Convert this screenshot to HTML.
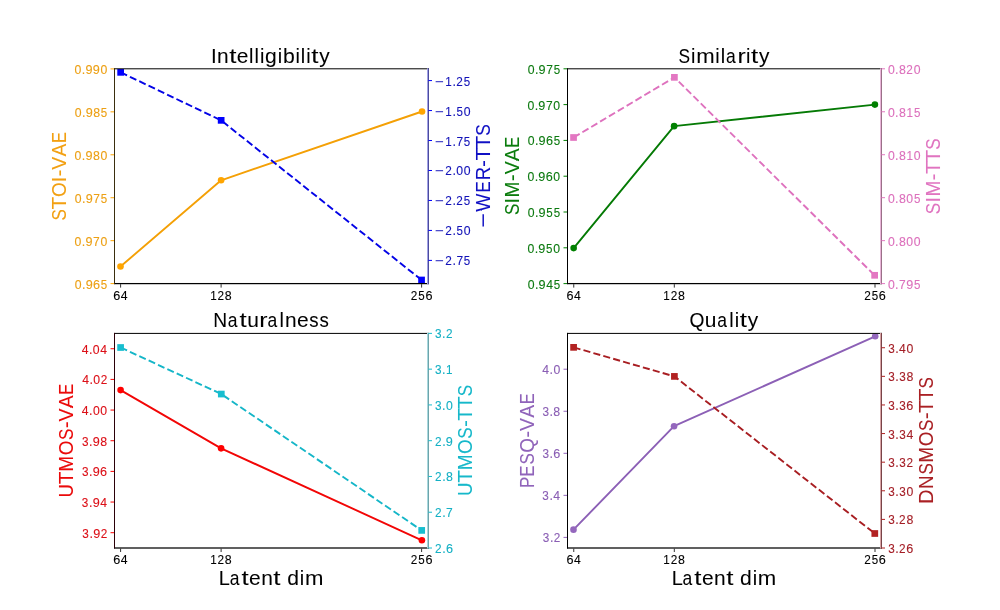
<!DOCTYPE html>
<html><head><meta charset="utf-8"><title>Latent dim ablation</title><style>
html,body{margin:0;padding:0;background:#fff;}
svg{display:block;will-change:transform;}
text{font-family:"Liberation Sans", sans-serif;}
</style></head><body>
<svg width="1000" height="610" viewBox="0 0 1000 610">
<rect width="1000" height="610" fill="#fff"/>
<clipPath id="cTL"><rect x="114.5" y="68.5" width="313.5" height="215.0"/></clipPath>
<g clip-path="url(#cTL)">
<polyline points="120.5,266.5 221.1,180.3 422.05,111.5" fill="none" stroke="#f4a006" stroke-width="1.9" stroke-linejoin="round"/>
<circle cx="120.5" cy="266.5" r="3.3" fill="#FFA500"/>
<circle cx="221.1" cy="180.3" r="3.3" fill="#FFA500"/>
<circle cx="422.05" cy="111.5" r="3.3" fill="#FFA500"/>
<polyline points="120.65,72.35 221.15,120.35 421.55,280.0" fill="none" stroke="#0404e6" stroke-width="1.9" stroke-dasharray="7.1 3.2" stroke-linejoin="round"/>
<rect x="117.30" y="69.00" width="6.7" height="6.7" fill="#0000FF"/>
<rect x="217.80" y="117.00" width="6.7" height="6.7" fill="#0000FF"/>
<rect x="418.20" y="276.65" width="6.7" height="6.7" fill="#0000FF"/>
</g>
<rect x="114" y="68.30" width="315" height="1" fill="#000"/>
<rect x="114" y="282.98" width="315" height="1.24" fill="#000"/>
<rect x="114" y="68.30" width="1" height="215.80" fill="#3a2e0e"/>
<rect x="427" y="68.30" width="1" height="215.80" fill="#a0a0e6"/>
<rect x="428" y="68.30" width="1" height="215.80" fill="#4c4c9c"/>
<rect x="120.10" y="284.10" width="1" height="3.5" fill="#333"/>
<rect x="220.60" y="284.10" width="1" height="3.5" fill="#333"/>
<rect x="421.10" y="284.10" width="1" height="3.5" fill="#333"/>
<rect x="110.50" y="283.10" width="3.5" height="1" fill="#FFA500"/>
<rect x="110.50" y="240.16" width="3.5" height="1" fill="#FFA500"/>
<rect x="110.50" y="197.22" width="3.5" height="1" fill="#FFA500"/>
<rect x="110.50" y="154.28" width="3.5" height="1" fill="#FFA500"/>
<rect x="110.50" y="111.34" width="3.5" height="1" fill="#FFA500"/>
<rect x="110.50" y="68.40" width="3.5" height="1" fill="#FFA500"/>
<rect x="428.5" y="259.90" width="3.5" height="1" fill="#0000FF"/>
<rect x="428.5" y="229.93" width="3.5" height="1" fill="#0000FF"/>
<rect x="428.5" y="199.96" width="3.5" height="1" fill="#0000FF"/>
<rect x="428.5" y="169.99" width="3.5" height="1" fill="#0000FF"/>
<rect x="428.5" y="140.02" width="3.5" height="1" fill="#0000FF"/>
<rect x="428.5" y="110.05" width="3.5" height="1" fill="#0000FF"/>
<rect x="428.5" y="80.08" width="3.5" height="1" fill="#0000FF"/>
<text transform="translate(113.31,299.50) scale(1.046,1)" font-size="12.1" fill="#000" stroke="#000" stroke-width="0.1">6</text>
<text transform="translate(120.81,299.50) scale(1.011,1)" font-size="12.1" fill="#000" stroke="#000" stroke-width="0.1">4</text>
<text transform="translate(210.17,299.50) scale(0.965,1)" font-size="12.1" fill="#000" stroke="#000" stroke-width="0.1">1</text>
<text transform="translate(217.43,299.50) scale(0.974,1)" font-size="12.1" fill="#000" stroke="#000" stroke-width="0.1">2</text>
<text transform="translate(224.80,299.50) scale(1.022,1)" font-size="12.1" fill="#000" stroke="#000" stroke-width="0.1">8</text>
<text transform="translate(410.73,299.50) scale(0.974,1)" font-size="12.1" fill="#000" stroke="#000" stroke-width="0.1">2</text>
<text transform="translate(418.28,299.50) scale(0.954,1)" font-size="12.1" fill="#000" stroke="#000" stroke-width="0.1">5</text>
<text transform="translate(425.40,299.50) scale(1.046,1)" font-size="12.1" fill="#000" stroke="#000" stroke-width="0.1">6</text>
<text transform="translate(74.79,288.60) scale(1.011,1)" font-size="12.1" fill="#eda014" stroke="#eda014" stroke-width="0.1">0</text>
<text transform="translate(81.98,288.60) scale(1.037,1)" font-size="12.1" fill="#eda014" stroke="#eda014" stroke-width="0.1">.</text>
<text transform="translate(85.71,288.60) scale(1.044,1)" font-size="12.1" fill="#eda014" stroke="#eda014" stroke-width="0.1">9</text>
<text transform="translate(93.12,288.60) scale(1.046,1)" font-size="12.1" fill="#eda014" stroke="#eda014" stroke-width="0.1">6</text>
<text transform="translate(100.77,288.60) scale(0.954,1)" font-size="12.1" fill="#eda014" stroke="#eda014" stroke-width="0.1">5</text>
<text transform="translate(74.55,245.66) scale(1.011,1)" font-size="12.1" fill="#eda014" stroke="#eda014" stroke-width="0.1">0</text>
<text transform="translate(81.74,245.66) scale(1.037,1)" font-size="12.1" fill="#eda014" stroke="#eda014" stroke-width="0.1">.</text>
<text transform="translate(85.47,245.66) scale(1.044,1)" font-size="12.1" fill="#eda014" stroke="#eda014" stroke-width="0.1">9</text>
<text transform="translate(93.05,245.66) scale(0.989,1)" font-size="12.1" fill="#eda014" stroke="#eda014" stroke-width="0.1">7</text>
<text transform="translate(100.38,245.66) scale(1.011,1)" font-size="12.1" fill="#eda014" stroke="#eda014" stroke-width="0.1">0</text>
<text transform="translate(74.79,202.72) scale(1.011,1)" font-size="12.1" fill="#eda014" stroke="#eda014" stroke-width="0.1">0</text>
<text transform="translate(81.98,202.72) scale(1.037,1)" font-size="12.1" fill="#eda014" stroke="#eda014" stroke-width="0.1">.</text>
<text transform="translate(85.71,202.72) scale(1.044,1)" font-size="12.1" fill="#eda014" stroke="#eda014" stroke-width="0.1">9</text>
<text transform="translate(93.29,202.72) scale(0.989,1)" font-size="12.1" fill="#eda014" stroke="#eda014" stroke-width="0.1">7</text>
<text transform="translate(100.77,202.72) scale(0.954,1)" font-size="12.1" fill="#eda014" stroke="#eda014" stroke-width="0.1">5</text>
<text transform="translate(74.55,159.78) scale(1.011,1)" font-size="12.1" fill="#eda014" stroke="#eda014" stroke-width="0.1">0</text>
<text transform="translate(81.74,159.78) scale(1.037,1)" font-size="12.1" fill="#eda014" stroke="#eda014" stroke-width="0.1">.</text>
<text transform="translate(85.47,159.78) scale(1.044,1)" font-size="12.1" fill="#eda014" stroke="#eda014" stroke-width="0.1">9</text>
<text transform="translate(92.96,159.78) scale(1.022,1)" font-size="12.1" fill="#eda014" stroke="#eda014" stroke-width="0.1">8</text>
<text transform="translate(100.38,159.78) scale(1.011,1)" font-size="12.1" fill="#eda014" stroke="#eda014" stroke-width="0.1">0</text>
<text transform="translate(74.79,116.84) scale(1.011,1)" font-size="12.1" fill="#eda014" stroke="#eda014" stroke-width="0.1">0</text>
<text transform="translate(81.98,116.84) scale(1.037,1)" font-size="12.1" fill="#eda014" stroke="#eda014" stroke-width="0.1">.</text>
<text transform="translate(85.71,116.84) scale(1.044,1)" font-size="12.1" fill="#eda014" stroke="#eda014" stroke-width="0.1">9</text>
<text transform="translate(93.20,116.84) scale(1.022,1)" font-size="12.1" fill="#eda014" stroke="#eda014" stroke-width="0.1">8</text>
<text transform="translate(100.77,116.84) scale(0.954,1)" font-size="12.1" fill="#eda014" stroke="#eda014" stroke-width="0.1">5</text>
<text transform="translate(74.55,73.90) scale(1.011,1)" font-size="12.1" fill="#eda014" stroke="#eda014" stroke-width="0.1">0</text>
<text transform="translate(81.74,73.90) scale(1.037,1)" font-size="12.1" fill="#eda014" stroke="#eda014" stroke-width="0.1">.</text>
<text transform="translate(85.47,73.90) scale(1.044,1)" font-size="12.1" fill="#eda014" stroke="#eda014" stroke-width="0.1">9</text>
<text transform="translate(92.85,73.90) scale(1.044,1)" font-size="12.1" fill="#eda014" stroke="#eda014" stroke-width="0.1">9</text>
<text transform="translate(100.38,73.90) scale(1.011,1)" font-size="12.1" fill="#eda014" stroke="#eda014" stroke-width="0.1">0</text>
<text transform="translate(434.76,265.40) scale(1.235,1)" font-size="12.1" fill="#1212b8" stroke="#1212b8" stroke-width="0.1">−</text>
<text transform="translate(445.23,265.40) scale(0.974,1)" font-size="12.1" fill="#1212b8" stroke="#1212b8" stroke-width="0.1">2</text>
<text transform="translate(452.45,265.40) scale(1.037,1)" font-size="12.1" fill="#1212b8" stroke="#1212b8" stroke-width="0.1">.</text>
<text transform="translate(456.38,265.40) scale(0.989,1)" font-size="12.1" fill="#1212b8" stroke="#1212b8" stroke-width="0.1">7</text>
<text transform="translate(463.86,265.40) scale(0.954,1)" font-size="12.1" fill="#1212b8" stroke="#1212b8" stroke-width="0.1">5</text>
<text transform="translate(434.76,235.43) scale(1.235,1)" font-size="12.1" fill="#1212b8" stroke="#1212b8" stroke-width="0.1">−</text>
<text transform="translate(445.23,235.43) scale(0.974,1)" font-size="12.1" fill="#1212b8" stroke="#1212b8" stroke-width="0.1">2</text>
<text transform="translate(452.45,235.43) scale(1.037,1)" font-size="12.1" fill="#1212b8" stroke="#1212b8" stroke-width="0.1">.</text>
<text transform="translate(456.48,235.43) scale(0.954,1)" font-size="12.1" fill="#1212b8" stroke="#1212b8" stroke-width="0.1">5</text>
<text transform="translate(463.71,235.43) scale(1.011,1)" font-size="12.1" fill="#1212b8" stroke="#1212b8" stroke-width="0.1">0</text>
<text transform="translate(434.76,205.46) scale(1.235,1)" font-size="12.1" fill="#1212b8" stroke="#1212b8" stroke-width="0.1">−</text>
<text transform="translate(445.23,205.46) scale(0.974,1)" font-size="12.1" fill="#1212b8" stroke="#1212b8" stroke-width="0.1">2</text>
<text transform="translate(452.45,205.46) scale(1.037,1)" font-size="12.1" fill="#1212b8" stroke="#1212b8" stroke-width="0.1">.</text>
<text transform="translate(456.30,205.46) scale(0.974,1)" font-size="12.1" fill="#1212b8" stroke="#1212b8" stroke-width="0.1">2</text>
<text transform="translate(463.86,205.46) scale(0.954,1)" font-size="12.1" fill="#1212b8" stroke="#1212b8" stroke-width="0.1">5</text>
<text transform="translate(434.76,175.49) scale(1.235,1)" font-size="12.1" fill="#1212b8" stroke="#1212b8" stroke-width="0.1">−</text>
<text transform="translate(445.23,175.49) scale(0.974,1)" font-size="12.1" fill="#1212b8" stroke="#1212b8" stroke-width="0.1">2</text>
<text transform="translate(452.45,175.49) scale(1.037,1)" font-size="12.1" fill="#1212b8" stroke="#1212b8" stroke-width="0.1">.</text>
<text transform="translate(456.33,175.49) scale(1.011,1)" font-size="12.1" fill="#1212b8" stroke="#1212b8" stroke-width="0.1">0</text>
<text transform="translate(463.71,175.49) scale(1.011,1)" font-size="12.1" fill="#1212b8" stroke="#1212b8" stroke-width="0.1">0</text>
<text transform="translate(434.76,145.52) scale(1.235,1)" font-size="12.1" fill="#1212b8" stroke="#1212b8" stroke-width="0.1">−</text>
<text transform="translate(445.36,145.52) scale(0.965,1)" font-size="12.1" fill="#1212b8" stroke="#1212b8" stroke-width="0.1">1</text>
<text transform="translate(452.45,145.52) scale(1.037,1)" font-size="12.1" fill="#1212b8" stroke="#1212b8" stroke-width="0.1">.</text>
<text transform="translate(456.38,145.52) scale(0.989,1)" font-size="12.1" fill="#1212b8" stroke="#1212b8" stroke-width="0.1">7</text>
<text transform="translate(463.86,145.52) scale(0.954,1)" font-size="12.1" fill="#1212b8" stroke="#1212b8" stroke-width="0.1">5</text>
<text transform="translate(434.76,115.55) scale(1.235,1)" font-size="12.1" fill="#1212b8" stroke="#1212b8" stroke-width="0.1">−</text>
<text transform="translate(445.36,115.55) scale(0.965,1)" font-size="12.1" fill="#1212b8" stroke="#1212b8" stroke-width="0.1">1</text>
<text transform="translate(452.45,115.55) scale(1.037,1)" font-size="12.1" fill="#1212b8" stroke="#1212b8" stroke-width="0.1">.</text>
<text transform="translate(456.48,115.55) scale(0.954,1)" font-size="12.1" fill="#1212b8" stroke="#1212b8" stroke-width="0.1">5</text>
<text transform="translate(463.71,115.55) scale(1.011,1)" font-size="12.1" fill="#1212b8" stroke="#1212b8" stroke-width="0.1">0</text>
<text transform="translate(434.76,85.58) scale(1.235,1)" font-size="12.1" fill="#1212b8" stroke="#1212b8" stroke-width="0.1">−</text>
<text transform="translate(445.36,85.58) scale(0.965,1)" font-size="12.1" fill="#1212b8" stroke="#1212b8" stroke-width="0.1">1</text>
<text transform="translate(452.45,85.58) scale(1.037,1)" font-size="12.1" fill="#1212b8" stroke="#1212b8" stroke-width="0.1">.</text>
<text transform="translate(456.30,85.58) scale(0.974,1)" font-size="12.1" fill="#1212b8" stroke="#1212b8" stroke-width="0.1">2</text>
<text transform="translate(463.86,85.58) scale(0.954,1)" font-size="12.1" fill="#1212b8" stroke="#1212b8" stroke-width="0.1">5</text>
<text transform="translate(210.97,62.60) scale(1.002,1)" font-size="20.51" fill="#000" stroke="#000" stroke-width="0.06">I</text>
<text transform="translate(217.07,62.60) scale(1.022,1)" font-size="20.51" fill="#000" stroke="#000" stroke-width="0.06">n</text>
<text transform="translate(229.14,62.60) scale(1.267,1)" font-size="20.51" fill="#000" stroke="#000" stroke-width="0.06">t</text>
<text transform="translate(236.82,62.60) scale(1.024,1)" font-size="20.51" fill="#000" stroke="#000" stroke-width="0.06">e</text>
<text transform="translate(249.09,62.60) scale(0.969,1)" font-size="20.51" fill="#000" stroke="#000" stroke-width="0.06">l</text>
<text transform="translate(254.49,62.60) scale(0.969,1)" font-size="20.51" fill="#000" stroke="#000" stroke-width="0.06">l</text>
<text transform="translate(259.90,62.60) scale(0.969,1)" font-size="20.51" fill="#000" stroke="#000" stroke-width="0.06">i</text>
<text transform="translate(264.99,62.60) scale(1.030,1)" font-size="20.51" fill="#000" stroke="#000" stroke-width="0.06">g</text>
<text transform="translate(277.64,62.60) scale(0.969,1)" font-size="20.51" fill="#000" stroke="#000" stroke-width="0.06">i</text>
<text transform="translate(282.94,62.60) scale(1.031,1)" font-size="20.51" fill="#000" stroke="#000" stroke-width="0.06">b</text>
<text transform="translate(295.38,62.60) scale(0.969,1)" font-size="20.51" fill="#000" stroke="#000" stroke-width="0.06">i</text>
<text transform="translate(300.77,62.60) scale(0.969,1)" font-size="20.51" fill="#000" stroke="#000" stroke-width="0.06">l</text>
<text transform="translate(306.19,62.60) scale(0.969,1)" font-size="20.51" fill="#000" stroke="#000" stroke-width="0.06">i</text>
<text transform="translate(311.21,62.60) scale(1.267,1)" font-size="20.51" fill="#000" stroke="#000" stroke-width="0.06">t</text>
<text transform="translate(319.23,62.60) scale(1.018,1)" font-size="20.51" fill="#000" stroke="#000" stroke-width="0.06">y</text>
<text transform="translate(66.00,176.30) rotate(-90) translate(-44.31,0) scale(0.845,1)" font-size="20.15" fill="#f2a012" stroke="#f2a012" stroke-width="0.06">S</text>
<text transform="translate(66.00,176.30) rotate(-90) translate(-33.19,0) scale(1.034,1)" font-size="20.15" fill="#f2a012" stroke="#f2a012" stroke-width="0.06">T</text>
<text transform="translate(66.00,176.30) rotate(-90) translate(-20.82,0) scale(0.937,1)" font-size="20.15" fill="#f2a012" stroke="#f2a012" stroke-width="0.06">O</text>
<text transform="translate(66.00,176.30) rotate(-90) translate(-5.96,0) scale(1.002,1)" font-size="20.15" fill="#f2a012" stroke="#f2a012" stroke-width="0.06">I</text>
<text transform="translate(66.00,176.30) rotate(-90) translate(-0.32,0) scale(1.022,1)" font-size="20.15" fill="#f2a012" stroke="#f2a012" stroke-width="0.06">-</text>
<text transform="translate(66.00,176.30) rotate(-90) translate(6.62,0) scale(0.962,1)" font-size="20.15" fill="#f2a012" stroke="#f2a012" stroke-width="0.06">V</text>
<text transform="translate(66.00,176.30) rotate(-90) translate(19.73,0) scale(0.955,1)" font-size="20.15" fill="#f2a012" stroke="#f2a012" stroke-width="0.06">A</text>
<text transform="translate(66.00,176.30) rotate(-90) translate(33.20,0) scale(0.822,1)" font-size="20.15" fill="#f2a012" stroke="#f2a012" stroke-width="0.06">E</text>
<text transform="translate(489.60,175.75) rotate(-90) translate(-52.03,0) scale(1.221,1)" font-size="20.57" fill="#1010c4" stroke="#1010c4" stroke-width="0.06">−</text>
<text transform="translate(489.60,175.75) rotate(-90) translate(-35.95,0) scale(0.935,1)" font-size="20.57" fill="#1010c4" stroke="#1010c4" stroke-width="0.06">W</text>
<text transform="translate(489.60,175.75) rotate(-90) translate(-16.71,0) scale(0.822,1)" font-size="20.57" fill="#1010c4" stroke="#1010c4" stroke-width="0.06">E</text>
<text transform="translate(489.60,175.75) rotate(-90) translate(-4.53,0) scale(0.907,1)" font-size="20.57" fill="#1010c4" stroke="#1010c4" stroke-width="0.06">R</text>
<text transform="translate(489.60,175.75) rotate(-90) translate(8.65,0) scale(1.022,1)" font-size="20.57" fill="#1010c4" stroke="#1010c4" stroke-width="0.06">-</text>
<text transform="translate(489.60,175.75) rotate(-90) translate(15.14,0) scale(1.034,1)" font-size="20.57" fill="#1010c4" stroke="#1010c4" stroke-width="0.06">T</text>
<text transform="translate(489.60,175.75) rotate(-90) translate(27.05,0) scale(1.034,1)" font-size="20.57" fill="#1010c4" stroke="#1010c4" stroke-width="0.06">T</text>
<text transform="translate(489.60,175.75) rotate(-90) translate(39.99,0) scale(0.845,1)" font-size="20.57" fill="#1010c4" stroke="#1010c4" stroke-width="0.06">S</text>
<clipPath id="cTR"><rect x="567.5" y="68.5" width="313.5" height="215.0"/></clipPath>
<g clip-path="url(#cTR)">
<polyline points="573.65,248.1 674.1,126.15 874.9,104.6" fill="none" stroke="#057a05" stroke-width="1.9" stroke-linejoin="round"/>
<circle cx="573.65" cy="248.1" r="3.3" fill="#008000"/>
<circle cx="674.1" cy="126.15" r="3.3" fill="#008000"/>
<circle cx="874.9" cy="104.6" r="3.3" fill="#008000"/>
<polyline points="573.55,137.5 674.4,77.35 874.65,275.3" fill="none" stroke="#de72be" stroke-width="1.9" stroke-dasharray="7.1 3.2" stroke-linejoin="round"/>
<rect x="570.20" y="134.15" width="6.7" height="6.7" fill="#E377C2"/>
<rect x="671.05" y="74.00" width="6.7" height="6.7" fill="#E377C2"/>
<rect x="871.30" y="271.95" width="6.7" height="6.7" fill="#E377C2"/>
</g>
<rect x="567" y="68.30" width="315" height="1" fill="#000"/>
<rect x="567" y="282.98" width="315" height="1.24" fill="#000"/>
<rect x="567" y="68.30" width="1" height="215.80" fill="#000000"/>
<rect x="880" y="68.30" width="1" height="215.80" fill="#e8b4d8"/>
<rect x="881" y="68.30" width="1" height="215.80" fill="#9a7088"/>
<rect x="573.25" y="284.10" width="1" height="3.5" fill="#333"/>
<rect x="673.80" y="284.10" width="1" height="3.5" fill="#333"/>
<rect x="874.50" y="284.10" width="1" height="3.5" fill="#333"/>
<rect x="563.50" y="283.10" width="3.5" height="1" fill="#008000"/>
<rect x="563.50" y="247.30" width="3.5" height="1" fill="#008000"/>
<rect x="563.50" y="211.50" width="3.5" height="1" fill="#008000"/>
<rect x="563.50" y="175.70" width="3.5" height="1" fill="#008000"/>
<rect x="563.50" y="139.90" width="3.5" height="1" fill="#008000"/>
<rect x="563.50" y="104.10" width="3.5" height="1" fill="#008000"/>
<rect x="563.50" y="68.30" width="3.5" height="1" fill="#008000"/>
<rect x="881.5" y="283.10" width="3.5" height="1" fill="#E377C2"/>
<rect x="881.5" y="240.14" width="3.5" height="1" fill="#E377C2"/>
<rect x="881.5" y="197.18" width="3.5" height="1" fill="#E377C2"/>
<rect x="881.5" y="154.22" width="3.5" height="1" fill="#E377C2"/>
<rect x="881.5" y="111.26" width="3.5" height="1" fill="#E377C2"/>
<rect x="881.5" y="68.30" width="3.5" height="1" fill="#E377C2"/>
<text transform="translate(566.46,299.50) scale(1.046,1)" font-size="12.1" fill="#000" stroke="#000" stroke-width="0.1">6</text>
<text transform="translate(573.96,299.50) scale(1.011,1)" font-size="12.1" fill="#000" stroke="#000" stroke-width="0.1">4</text>
<text transform="translate(663.37,299.50) scale(0.965,1)" font-size="12.1" fill="#000" stroke="#000" stroke-width="0.1">1</text>
<text transform="translate(670.63,299.50) scale(0.974,1)" font-size="12.1" fill="#000" stroke="#000" stroke-width="0.1">2</text>
<text transform="translate(678.00,299.50) scale(1.022,1)" font-size="12.1" fill="#000" stroke="#000" stroke-width="0.1">8</text>
<text transform="translate(864.13,299.50) scale(0.974,1)" font-size="12.1" fill="#000" stroke="#000" stroke-width="0.1">2</text>
<text transform="translate(871.68,299.50) scale(0.954,1)" font-size="12.1" fill="#000" stroke="#000" stroke-width="0.1">5</text>
<text transform="translate(878.80,299.50) scale(1.046,1)" font-size="12.1" fill="#000" stroke="#000" stroke-width="0.1">6</text>
<text transform="translate(527.69,288.60) scale(1.011,1)" font-size="12.1" fill="#0c7a10" stroke="#0c7a10" stroke-width="0.1">0</text>
<text transform="translate(534.88,288.60) scale(1.037,1)" font-size="12.1" fill="#0c7a10" stroke="#0c7a10" stroke-width="0.1">.</text>
<text transform="translate(538.61,288.60) scale(1.044,1)" font-size="12.1" fill="#0c7a10" stroke="#0c7a10" stroke-width="0.1">9</text>
<text transform="translate(546.14,288.60) scale(1.011,1)" font-size="12.1" fill="#0c7a10" stroke="#0c7a10" stroke-width="0.1">4</text>
<text transform="translate(553.67,288.60) scale(0.954,1)" font-size="12.1" fill="#0c7a10" stroke="#0c7a10" stroke-width="0.1">5</text>
<text transform="translate(527.45,252.80) scale(1.011,1)" font-size="12.1" fill="#0c7a10" stroke="#0c7a10" stroke-width="0.1">0</text>
<text transform="translate(534.64,252.80) scale(1.037,1)" font-size="12.1" fill="#0c7a10" stroke="#0c7a10" stroke-width="0.1">.</text>
<text transform="translate(538.37,252.80) scale(1.044,1)" font-size="12.1" fill="#0c7a10" stroke="#0c7a10" stroke-width="0.1">9</text>
<text transform="translate(546.04,252.80) scale(0.954,1)" font-size="12.1" fill="#0c7a10" stroke="#0c7a10" stroke-width="0.1">5</text>
<text transform="translate(553.28,252.80) scale(1.011,1)" font-size="12.1" fill="#0c7a10" stroke="#0c7a10" stroke-width="0.1">0</text>
<text transform="translate(527.69,217.00) scale(1.011,1)" font-size="12.1" fill="#0c7a10" stroke="#0c7a10" stroke-width="0.1">0</text>
<text transform="translate(534.88,217.00) scale(1.037,1)" font-size="12.1" fill="#0c7a10" stroke="#0c7a10" stroke-width="0.1">.</text>
<text transform="translate(538.61,217.00) scale(1.044,1)" font-size="12.1" fill="#0c7a10" stroke="#0c7a10" stroke-width="0.1">9</text>
<text transform="translate(546.29,217.00) scale(0.954,1)" font-size="12.1" fill="#0c7a10" stroke="#0c7a10" stroke-width="0.1">5</text>
<text transform="translate(553.67,217.00) scale(0.954,1)" font-size="12.1" fill="#0c7a10" stroke="#0c7a10" stroke-width="0.1">5</text>
<text transform="translate(527.45,181.20) scale(1.011,1)" font-size="12.1" fill="#0c7a10" stroke="#0c7a10" stroke-width="0.1">0</text>
<text transform="translate(534.64,181.20) scale(1.037,1)" font-size="12.1" fill="#0c7a10" stroke="#0c7a10" stroke-width="0.1">.</text>
<text transform="translate(538.37,181.20) scale(1.044,1)" font-size="12.1" fill="#0c7a10" stroke="#0c7a10" stroke-width="0.1">9</text>
<text transform="translate(545.78,181.20) scale(1.046,1)" font-size="12.1" fill="#0c7a10" stroke="#0c7a10" stroke-width="0.1">6</text>
<text transform="translate(553.28,181.20) scale(1.011,1)" font-size="12.1" fill="#0c7a10" stroke="#0c7a10" stroke-width="0.1">0</text>
<text transform="translate(527.69,145.40) scale(1.011,1)" font-size="12.1" fill="#0c7a10" stroke="#0c7a10" stroke-width="0.1">0</text>
<text transform="translate(534.88,145.40) scale(1.037,1)" font-size="12.1" fill="#0c7a10" stroke="#0c7a10" stroke-width="0.1">.</text>
<text transform="translate(538.61,145.40) scale(1.044,1)" font-size="12.1" fill="#0c7a10" stroke="#0c7a10" stroke-width="0.1">9</text>
<text transform="translate(546.02,145.40) scale(1.046,1)" font-size="12.1" fill="#0c7a10" stroke="#0c7a10" stroke-width="0.1">6</text>
<text transform="translate(553.67,145.40) scale(0.954,1)" font-size="12.1" fill="#0c7a10" stroke="#0c7a10" stroke-width="0.1">5</text>
<text transform="translate(527.45,109.60) scale(1.011,1)" font-size="12.1" fill="#0c7a10" stroke="#0c7a10" stroke-width="0.1">0</text>
<text transform="translate(534.64,109.60) scale(1.037,1)" font-size="12.1" fill="#0c7a10" stroke="#0c7a10" stroke-width="0.1">.</text>
<text transform="translate(538.37,109.60) scale(1.044,1)" font-size="12.1" fill="#0c7a10" stroke="#0c7a10" stroke-width="0.1">9</text>
<text transform="translate(545.95,109.60) scale(0.989,1)" font-size="12.1" fill="#0c7a10" stroke="#0c7a10" stroke-width="0.1">7</text>
<text transform="translate(553.28,109.60) scale(1.011,1)" font-size="12.1" fill="#0c7a10" stroke="#0c7a10" stroke-width="0.1">0</text>
<text transform="translate(527.69,73.80) scale(1.011,1)" font-size="12.1" fill="#0c7a10" stroke="#0c7a10" stroke-width="0.1">0</text>
<text transform="translate(534.88,73.80) scale(1.037,1)" font-size="12.1" fill="#0c7a10" stroke="#0c7a10" stroke-width="0.1">.</text>
<text transform="translate(538.61,73.80) scale(1.044,1)" font-size="12.1" fill="#0c7a10" stroke="#0c7a10" stroke-width="0.1">9</text>
<text transform="translate(546.19,73.80) scale(0.989,1)" font-size="12.1" fill="#0c7a10" stroke="#0c7a10" stroke-width="0.1">7</text>
<text transform="translate(553.67,73.80) scale(0.954,1)" font-size="12.1" fill="#0c7a10" stroke="#0c7a10" stroke-width="0.1">5</text>
<text transform="translate(887.92,288.60) scale(1.011,1)" font-size="12.1" fill="#dc70bc" stroke="#dc70bc" stroke-width="0.1">0</text>
<text transform="translate(895.11,288.60) scale(1.037,1)" font-size="12.1" fill="#dc70bc" stroke="#dc70bc" stroke-width="0.1">.</text>
<text transform="translate(899.04,288.60) scale(0.989,1)" font-size="12.1" fill="#dc70bc" stroke="#dc70bc" stroke-width="0.1">7</text>
<text transform="translate(906.22,288.60) scale(1.044,1)" font-size="12.1" fill="#dc70bc" stroke="#dc70bc" stroke-width="0.1">9</text>
<text transform="translate(913.90,288.60) scale(0.954,1)" font-size="12.1" fill="#dc70bc" stroke="#dc70bc" stroke-width="0.1">5</text>
<text transform="translate(887.92,245.64) scale(1.011,1)" font-size="12.1" fill="#dc70bc" stroke="#dc70bc" stroke-width="0.1">0</text>
<text transform="translate(895.11,245.64) scale(1.037,1)" font-size="12.1" fill="#dc70bc" stroke="#dc70bc" stroke-width="0.1">.</text>
<text transform="translate(898.95,245.64) scale(1.022,1)" font-size="12.1" fill="#dc70bc" stroke="#dc70bc" stroke-width="0.1">8</text>
<text transform="translate(906.37,245.64) scale(1.011,1)" font-size="12.1" fill="#dc70bc" stroke="#dc70bc" stroke-width="0.1">0</text>
<text transform="translate(913.75,245.64) scale(1.011,1)" font-size="12.1" fill="#dc70bc" stroke="#dc70bc" stroke-width="0.1">0</text>
<text transform="translate(887.92,202.68) scale(1.011,1)" font-size="12.1" fill="#dc70bc" stroke="#dc70bc" stroke-width="0.1">0</text>
<text transform="translate(895.11,202.68) scale(1.037,1)" font-size="12.1" fill="#dc70bc" stroke="#dc70bc" stroke-width="0.1">.</text>
<text transform="translate(898.95,202.68) scale(1.022,1)" font-size="12.1" fill="#dc70bc" stroke="#dc70bc" stroke-width="0.1">8</text>
<text transform="translate(906.37,202.68) scale(1.011,1)" font-size="12.1" fill="#dc70bc" stroke="#dc70bc" stroke-width="0.1">0</text>
<text transform="translate(913.90,202.68) scale(0.954,1)" font-size="12.1" fill="#dc70bc" stroke="#dc70bc" stroke-width="0.1">5</text>
<text transform="translate(887.92,159.72) scale(1.011,1)" font-size="12.1" fill="#dc70bc" stroke="#dc70bc" stroke-width="0.1">0</text>
<text transform="translate(895.11,159.72) scale(1.037,1)" font-size="12.1" fill="#dc70bc" stroke="#dc70bc" stroke-width="0.1">.</text>
<text transform="translate(898.95,159.72) scale(1.022,1)" font-size="12.1" fill="#dc70bc" stroke="#dc70bc" stroke-width="0.1">8</text>
<text transform="translate(906.47,159.72) scale(0.965,1)" font-size="12.1" fill="#dc70bc" stroke="#dc70bc" stroke-width="0.1">1</text>
<text transform="translate(913.75,159.72) scale(1.011,1)" font-size="12.1" fill="#dc70bc" stroke="#dc70bc" stroke-width="0.1">0</text>
<text transform="translate(887.92,116.76) scale(1.011,1)" font-size="12.1" fill="#dc70bc" stroke="#dc70bc" stroke-width="0.1">0</text>
<text transform="translate(895.11,116.76) scale(1.037,1)" font-size="12.1" fill="#dc70bc" stroke="#dc70bc" stroke-width="0.1">.</text>
<text transform="translate(898.95,116.76) scale(1.022,1)" font-size="12.1" fill="#dc70bc" stroke="#dc70bc" stroke-width="0.1">8</text>
<text transform="translate(906.47,116.76) scale(0.965,1)" font-size="12.1" fill="#dc70bc" stroke="#dc70bc" stroke-width="0.1">1</text>
<text transform="translate(913.90,116.76) scale(0.954,1)" font-size="12.1" fill="#dc70bc" stroke="#dc70bc" stroke-width="0.1">5</text>
<text transform="translate(887.92,73.80) scale(1.011,1)" font-size="12.1" fill="#dc70bc" stroke="#dc70bc" stroke-width="0.1">0</text>
<text transform="translate(895.11,73.80) scale(1.037,1)" font-size="12.1" fill="#dc70bc" stroke="#dc70bc" stroke-width="0.1">.</text>
<text transform="translate(898.95,73.80) scale(1.022,1)" font-size="12.1" fill="#dc70bc" stroke="#dc70bc" stroke-width="0.1">8</text>
<text transform="translate(906.34,73.80) scale(0.974,1)" font-size="12.1" fill="#dc70bc" stroke="#dc70bc" stroke-width="0.1">2</text>
<text transform="translate(913.75,73.80) scale(1.011,1)" font-size="12.1" fill="#dc70bc" stroke="#dc70bc" stroke-width="0.1">0</text>
<text transform="translate(678.59,62.60) scale(0.845,1)" font-size="20.51" fill="#000" stroke="#000" stroke-width="0.06">S</text>
<text transform="translate(690.93,62.60) scale(0.969,1)" font-size="20.51" fill="#000" stroke="#000" stroke-width="0.06">i</text>
<text transform="translate(696.13,62.60) scale(1.080,1)" font-size="20.51" fill="#000" stroke="#000" stroke-width="0.06">m</text>
<text transform="translate(715.27,62.60) scale(0.969,1)" font-size="20.51" fill="#000" stroke="#000" stroke-width="0.06">i</text>
<text transform="translate(720.66,62.60) scale(0.969,1)" font-size="20.51" fill="#000" stroke="#000" stroke-width="0.06">l</text>
<text transform="translate(726.00,62.60) scale(0.852,1)" font-size="20.51" fill="#000" stroke="#000" stroke-width="0.06">a</text>
<text transform="translate(737.60,62.60) scale(1.214,1)" font-size="20.51" fill="#000" stroke="#000" stroke-width="0.06">r</text>
<text transform="translate(745.98,62.60) scale(0.969,1)" font-size="20.51" fill="#000" stroke="#000" stroke-width="0.06">i</text>
<text transform="translate(751.01,62.60) scale(1.267,1)" font-size="20.51" fill="#000" stroke="#000" stroke-width="0.06">t</text>
<text transform="translate(759.03,62.60) scale(1.018,1)" font-size="20.51" fill="#000" stroke="#000" stroke-width="0.06">y</text>
<text transform="translate(519.00,175.85) rotate(-90) translate(-39.20,0) scale(0.845,1)" font-size="20.15" fill="#0a7c0c" stroke="#0a7c0c" stroke-width="0.06">S</text>
<text transform="translate(519.00,175.85) rotate(-90) translate(-27.55,0) scale(1.002,1)" font-size="20.15" fill="#0a7c0c" stroke="#0a7c0c" stroke-width="0.06">I</text>
<text transform="translate(519.00,175.85) rotate(-90) translate(-21.61,0) scale(0.945,1)" font-size="20.15" fill="#0a7c0c" stroke="#0a7c0c" stroke-width="0.06">M</text>
<text transform="translate(519.00,175.85) rotate(-90) translate(-5.43,0) scale(1.022,1)" font-size="20.15" fill="#0a7c0c" stroke="#0a7c0c" stroke-width="0.06">-</text>
<text transform="translate(519.00,175.85) rotate(-90) translate(1.51,0) scale(0.962,1)" font-size="20.15" fill="#0a7c0c" stroke="#0a7c0c" stroke-width="0.06">V</text>
<text transform="translate(519.00,175.85) rotate(-90) translate(14.62,0) scale(0.955,1)" font-size="20.15" fill="#0a7c0c" stroke="#0a7c0c" stroke-width="0.06">A</text>
<text transform="translate(519.00,175.85) rotate(-90) translate(28.09,0) scale(0.822,1)" font-size="20.15" fill="#0a7c0c" stroke="#0a7c0c" stroke-width="0.06">E</text>
<text transform="translate(940.20,176.30) rotate(-90) translate(-37.91,0) scale(0.845,1)" font-size="20.15" fill="#e074c0" stroke="#e074c0" stroke-width="0.06">S</text>
<text transform="translate(940.20,176.30) rotate(-90) translate(-26.26,0) scale(1.002,1)" font-size="20.15" fill="#e074c0" stroke="#e074c0" stroke-width="0.06">I</text>
<text transform="translate(940.20,176.30) rotate(-90) translate(-20.32,0) scale(0.945,1)" font-size="20.15" fill="#e074c0" stroke="#e074c0" stroke-width="0.06">M</text>
<text transform="translate(940.20,176.30) rotate(-90) translate(-4.14,0) scale(1.022,1)" font-size="20.15" fill="#e074c0" stroke="#e074c0" stroke-width="0.06">-</text>
<text transform="translate(940.20,176.30) rotate(-90) translate(2.21,0) scale(1.034,1)" font-size="20.15" fill="#e074c0" stroke="#e074c0" stroke-width="0.06">T</text>
<text transform="translate(940.20,176.30) rotate(-90) translate(13.88,0) scale(1.034,1)" font-size="20.15" fill="#e074c0" stroke="#e074c0" stroke-width="0.06">T</text>
<text transform="translate(940.20,176.30) rotate(-90) translate(26.56,0) scale(0.845,1)" font-size="20.15" fill="#e074c0" stroke="#e074c0" stroke-width="0.06">S</text>
<clipPath id="cBL"><rect x="114.5" y="333.5" width="313.5" height="214.0"/></clipPath>
<g clip-path="url(#cBL)">
<polyline points="120.6,390.1 221.1,448.35 421.9,540.3" fill="none" stroke="#f20606" stroke-width="1.9" stroke-linejoin="round"/>
<circle cx="120.6" cy="390.1" r="3.3" fill="#FF0000"/>
<circle cx="221.1" cy="448.35" r="3.3" fill="#FF0000"/>
<circle cx="421.9" cy="540.3" r="3.3" fill="#FF0000"/>
<polyline points="120.6,347.5 221.3,394.05 421.7,530.4" fill="none" stroke="#15b6c8" stroke-width="1.9" stroke-dasharray="7.1 3.2" stroke-linejoin="round"/>
<rect x="117.25" y="344.15" width="6.7" height="6.7" fill="#17BECF"/>
<rect x="217.95" y="390.70" width="6.7" height="6.7" fill="#17BECF"/>
<rect x="418.35" y="527.05" width="6.7" height="6.7" fill="#17BECF"/>
</g>
<rect x="114" y="332.90" width="315" height="1" fill="#000"/>
<rect x="114" y="547.38" width="315" height="1.24" fill="#000"/>
<rect x="114" y="332.90" width="1" height="215.60" fill="#2a0008"/>
<rect x="427" y="332.90" width="1" height="215.60" fill="#a8d8de"/>
<rect x="428" y="332.90" width="1" height="215.60" fill="#6ea4aa"/>
<rect x="120.10" y="548.50" width="1" height="3.5" fill="#333"/>
<rect x="220.60" y="548.50" width="1" height="3.5" fill="#333"/>
<rect x="421.10" y="548.50" width="1" height="3.5" fill="#333"/>
<rect x="110.50" y="532.20" width="3.5" height="1" fill="#FF0000"/>
<rect x="110.50" y="501.54" width="3.5" height="1" fill="#FF0000"/>
<rect x="110.50" y="470.88" width="3.5" height="1" fill="#FF0000"/>
<rect x="110.50" y="440.22" width="3.5" height="1" fill="#FF0000"/>
<rect x="110.50" y="409.56" width="3.5" height="1" fill="#FF0000"/>
<rect x="110.50" y="378.90" width="3.5" height="1" fill="#FF0000"/>
<rect x="110.50" y="348.24" width="3.5" height="1" fill="#FF0000"/>
<rect x="428.5" y="547.50" width="3.5" height="1" fill="#17BECF"/>
<rect x="428.5" y="511.73" width="3.5" height="1" fill="#17BECF"/>
<rect x="428.5" y="475.96" width="3.5" height="1" fill="#17BECF"/>
<rect x="428.5" y="440.19" width="3.5" height="1" fill="#17BECF"/>
<rect x="428.5" y="404.42" width="3.5" height="1" fill="#17BECF"/>
<rect x="428.5" y="368.65" width="3.5" height="1" fill="#17BECF"/>
<rect x="428.5" y="332.88" width="3.5" height="1" fill="#17BECF"/>
<text transform="translate(113.31,563.90) scale(1.046,1)" font-size="12.1" fill="#000" stroke="#000" stroke-width="0.1">6</text>
<text transform="translate(120.81,563.90) scale(1.011,1)" font-size="12.1" fill="#000" stroke="#000" stroke-width="0.1">4</text>
<text transform="translate(210.17,563.90) scale(0.965,1)" font-size="12.1" fill="#000" stroke="#000" stroke-width="0.1">1</text>
<text transform="translate(217.43,563.90) scale(0.974,1)" font-size="12.1" fill="#000" stroke="#000" stroke-width="0.1">2</text>
<text transform="translate(224.80,563.90) scale(1.022,1)" font-size="12.1" fill="#000" stroke="#000" stroke-width="0.1">8</text>
<text transform="translate(410.73,563.90) scale(0.974,1)" font-size="12.1" fill="#000" stroke="#000" stroke-width="0.1">2</text>
<text transform="translate(418.28,563.90) scale(0.954,1)" font-size="12.1" fill="#000" stroke="#000" stroke-width="0.1">5</text>
<text transform="translate(425.40,563.90) scale(1.046,1)" font-size="12.1" fill="#000" stroke="#000" stroke-width="0.1">6</text>
<text transform="translate(82.37,537.70) scale(0.971,1)" font-size="12.1" fill="#dc1018" stroke="#dc1018" stroke-width="0.1">3</text>
<text transform="translate(89.41,537.70) scale(1.037,1)" font-size="12.1" fill="#dc1018" stroke="#dc1018" stroke-width="0.1">.</text>
<text transform="translate(93.14,537.70) scale(1.044,1)" font-size="12.1" fill="#dc1018" stroke="#dc1018" stroke-width="0.1">9</text>
<text transform="translate(100.64,537.70) scale(0.974,1)" font-size="12.1" fill="#dc1018" stroke="#dc1018" stroke-width="0.1">2</text>
<text transform="translate(81.86,507.04) scale(0.971,1)" font-size="12.1" fill="#dc1018" stroke="#dc1018" stroke-width="0.1">3</text>
<text transform="translate(88.90,507.04) scale(1.037,1)" font-size="12.1" fill="#dc1018" stroke="#dc1018" stroke-width="0.1">.</text>
<text transform="translate(92.63,507.04) scale(1.044,1)" font-size="12.1" fill="#dc1018" stroke="#dc1018" stroke-width="0.1">9</text>
<text transform="translate(100.16,507.04) scale(1.011,1)" font-size="12.1" fill="#dc1018" stroke="#dc1018" stroke-width="0.1">4</text>
<text transform="translate(81.94,476.38) scale(0.971,1)" font-size="12.1" fill="#dc1018" stroke="#dc1018" stroke-width="0.1">3</text>
<text transform="translate(88.98,476.38) scale(1.037,1)" font-size="12.1" fill="#dc1018" stroke="#dc1018" stroke-width="0.1">.</text>
<text transform="translate(92.71,476.38) scale(1.044,1)" font-size="12.1" fill="#dc1018" stroke="#dc1018" stroke-width="0.1">9</text>
<text transform="translate(100.12,476.38) scale(1.046,1)" font-size="12.1" fill="#dc1018" stroke="#dc1018" stroke-width="0.1">6</text>
<text transform="translate(82.00,445.72) scale(0.971,1)" font-size="12.1" fill="#dc1018" stroke="#dc1018" stroke-width="0.1">3</text>
<text transform="translate(89.04,445.72) scale(1.037,1)" font-size="12.1" fill="#dc1018" stroke="#dc1018" stroke-width="0.1">.</text>
<text transform="translate(92.77,445.72) scale(1.044,1)" font-size="12.1" fill="#dc1018" stroke="#dc1018" stroke-width="0.1">9</text>
<text transform="translate(100.26,445.72) scale(1.022,1)" font-size="12.1" fill="#dc1018" stroke="#dc1018" stroke-width="0.1">8</text>
<text transform="translate(81.83,415.06) scale(1.011,1)" font-size="12.1" fill="#dc1018" stroke="#dc1018" stroke-width="0.1">4</text>
<text transform="translate(89.02,415.06) scale(1.037,1)" font-size="12.1" fill="#dc1018" stroke="#dc1018" stroke-width="0.1">.</text>
<text transform="translate(92.90,415.06) scale(1.011,1)" font-size="12.1" fill="#dc1018" stroke="#dc1018" stroke-width="0.1">0</text>
<text transform="translate(100.28,415.06) scale(1.011,1)" font-size="12.1" fill="#dc1018" stroke="#dc1018" stroke-width="0.1">0</text>
<text transform="translate(82.22,384.40) scale(1.011,1)" font-size="12.1" fill="#dc1018" stroke="#dc1018" stroke-width="0.1">4</text>
<text transform="translate(89.41,384.40) scale(1.037,1)" font-size="12.1" fill="#dc1018" stroke="#dc1018" stroke-width="0.1">.</text>
<text transform="translate(93.29,384.40) scale(1.011,1)" font-size="12.1" fill="#dc1018" stroke="#dc1018" stroke-width="0.1">0</text>
<text transform="translate(100.64,384.40) scale(0.974,1)" font-size="12.1" fill="#dc1018" stroke="#dc1018" stroke-width="0.1">2</text>
<text transform="translate(81.71,353.74) scale(1.011,1)" font-size="12.1" fill="#dc1018" stroke="#dc1018" stroke-width="0.1">4</text>
<text transform="translate(88.90,353.74) scale(1.037,1)" font-size="12.1" fill="#dc1018" stroke="#dc1018" stroke-width="0.1">.</text>
<text transform="translate(92.78,353.74) scale(1.011,1)" font-size="12.1" fill="#dc1018" stroke="#dc1018" stroke-width="0.1">0</text>
<text transform="translate(100.16,353.74) scale(1.011,1)" font-size="12.1" fill="#dc1018" stroke="#dc1018" stroke-width="0.1">4</text>
<text transform="translate(434.91,553.00) scale(0.974,1)" font-size="12.1" fill="#14b0c4" stroke="#14b0c4" stroke-width="0.1">2</text>
<text transform="translate(442.13,553.00) scale(1.037,1)" font-size="12.1" fill="#14b0c4" stroke="#14b0c4" stroke-width="0.1">.</text>
<text transform="translate(445.89,553.00) scale(1.046,1)" font-size="12.1" fill="#14b0c4" stroke="#14b0c4" stroke-width="0.1">6</text>
<text transform="translate(434.91,517.23) scale(0.974,1)" font-size="12.1" fill="#14b0c4" stroke="#14b0c4" stroke-width="0.1">2</text>
<text transform="translate(442.13,517.23) scale(1.037,1)" font-size="12.1" fill="#14b0c4" stroke="#14b0c4" stroke-width="0.1">.</text>
<text transform="translate(446.06,517.23) scale(0.989,1)" font-size="12.1" fill="#14b0c4" stroke="#14b0c4" stroke-width="0.1">7</text>
<text transform="translate(434.91,481.46) scale(0.974,1)" font-size="12.1" fill="#14b0c4" stroke="#14b0c4" stroke-width="0.1">2</text>
<text transform="translate(442.13,481.46) scale(1.037,1)" font-size="12.1" fill="#14b0c4" stroke="#14b0c4" stroke-width="0.1">.</text>
<text transform="translate(445.97,481.46) scale(1.022,1)" font-size="12.1" fill="#14b0c4" stroke="#14b0c4" stroke-width="0.1">8</text>
<text transform="translate(434.91,445.69) scale(0.974,1)" font-size="12.1" fill="#14b0c4" stroke="#14b0c4" stroke-width="0.1">2</text>
<text transform="translate(442.13,445.69) scale(1.037,1)" font-size="12.1" fill="#14b0c4" stroke="#14b0c4" stroke-width="0.1">.</text>
<text transform="translate(445.86,445.69) scale(1.044,1)" font-size="12.1" fill="#14b0c4" stroke="#14b0c4" stroke-width="0.1">9</text>
<text transform="translate(435.05,409.92) scale(0.971,1)" font-size="12.1" fill="#14b0c4" stroke="#14b0c4" stroke-width="0.1">3</text>
<text transform="translate(442.09,409.92) scale(1.037,1)" font-size="12.1" fill="#14b0c4" stroke="#14b0c4" stroke-width="0.1">.</text>
<text transform="translate(445.97,409.92) scale(1.011,1)" font-size="12.1" fill="#14b0c4" stroke="#14b0c4" stroke-width="0.1">0</text>
<text transform="translate(435.05,374.15) scale(0.971,1)" font-size="12.1" fill="#14b0c4" stroke="#14b0c4" stroke-width="0.1">3</text>
<text transform="translate(442.09,374.15) scale(1.037,1)" font-size="12.1" fill="#14b0c4" stroke="#14b0c4" stroke-width="0.1">.</text>
<text transform="translate(446.07,374.15) scale(0.965,1)" font-size="12.1" fill="#14b0c4" stroke="#14b0c4" stroke-width="0.1">1</text>
<text transform="translate(435.05,338.38) scale(0.971,1)" font-size="12.1" fill="#14b0c4" stroke="#14b0c4" stroke-width="0.1">3</text>
<text transform="translate(442.09,338.38) scale(1.037,1)" font-size="12.1" fill="#14b0c4" stroke="#14b0c4" stroke-width="0.1">.</text>
<text transform="translate(445.94,338.38) scale(0.974,1)" font-size="12.1" fill="#14b0c4" stroke="#14b0c4" stroke-width="0.1">2</text>
<text transform="translate(213.13,326.70) scale(0.936,1)" font-size="20.51" fill="#000" stroke="#000" stroke-width="0.06">N</text>
<text transform="translate(227.77,326.70) scale(0.852,1)" font-size="20.51" fill="#000" stroke="#000" stroke-width="0.06">a</text>
<text transform="translate(239.38,326.70) scale(1.267,1)" font-size="20.51" fill="#000" stroke="#000" stroke-width="0.06">t</text>
<text transform="translate(247.17,326.70) scale(1.022,1)" font-size="20.51" fill="#000" stroke="#000" stroke-width="0.06">u</text>
<text transform="translate(259.31,326.70) scale(1.214,1)" font-size="20.51" fill="#000" stroke="#000" stroke-width="0.06">r</text>
<text transform="translate(267.62,326.70) scale(0.852,1)" font-size="20.51" fill="#000" stroke="#000" stroke-width="0.06">a</text>
<text transform="translate(279.60,326.70) scale(0.969,1)" font-size="20.51" fill="#000" stroke="#000" stroke-width="0.06">l</text>
<text transform="translate(284.88,326.70) scale(1.022,1)" font-size="20.51" fill="#000" stroke="#000" stroke-width="0.06">n</text>
<text transform="translate(297.01,326.70) scale(1.024,1)" font-size="20.51" fill="#000" stroke="#000" stroke-width="0.06">e</text>
<text transform="translate(309.32,326.70) scale(0.909,1)" font-size="20.51" fill="#000" stroke="#000" stroke-width="0.06">s</text>
<text transform="translate(319.45,326.70) scale(0.909,1)" font-size="20.51" fill="#000" stroke="#000" stroke-width="0.06">s</text>
<text transform="translate(218.83,584.80) scale(0.975,1)" font-size="20.51" fill="#000" stroke="#000" stroke-width="0.06">L</text>
<text transform="translate(229.81,584.80) scale(0.852,1)" font-size="20.51" fill="#000" stroke="#000" stroke-width="0.06">a</text>
<text transform="translate(241.43,584.80) scale(1.267,1)" font-size="20.51" fill="#000" stroke="#000" stroke-width="0.06">t</text>
<text transform="translate(249.11,584.80) scale(1.024,1)" font-size="20.51" fill="#000" stroke="#000" stroke-width="0.06">e</text>
<text transform="translate(261.26,584.80) scale(1.022,1)" font-size="20.51" fill="#000" stroke="#000" stroke-width="0.06">n</text>
<text transform="translate(273.33,584.80) scale(1.267,1)" font-size="20.51" fill="#000" stroke="#000" stroke-width="0.06">t</text>
<text transform="translate(287.19,584.80) scale(1.030,1)" font-size="20.51" fill="#000" stroke="#000" stroke-width="0.06">d</text>
<text transform="translate(299.85,584.80) scale(0.969,1)" font-size="20.51" fill="#000" stroke="#000" stroke-width="0.06">i</text>
<text transform="translate(305.04,584.80) scale(1.080,1)" font-size="20.51" fill="#000" stroke="#000" stroke-width="0.06">m</text>
<text transform="translate(73.40,440.25) rotate(-90) translate(-57.20,0) scale(0.932,1)" font-size="20.15" fill="#ea0a0a" stroke="#ea0a0a" stroke-width="0.06">U</text>
<text transform="translate(73.40,440.25) rotate(-90) translate(-43.95,0) scale(1.034,1)" font-size="20.15" fill="#ea0a0a" stroke="#ea0a0a" stroke-width="0.06">T</text>
<text transform="translate(73.40,440.25) rotate(-90) translate(-31.45,0) scale(0.945,1)" font-size="20.15" fill="#ea0a0a" stroke="#ea0a0a" stroke-width="0.06">M</text>
<text transform="translate(73.40,440.25) rotate(-90) translate(-15.10,0) scale(0.937,1)" font-size="20.15" fill="#ea0a0a" stroke="#ea0a0a" stroke-width="0.06">O</text>
<text transform="translate(73.40,440.25) rotate(-90) translate(0.24,0) scale(0.845,1)" font-size="20.15" fill="#ea0a0a" stroke="#ea0a0a" stroke-width="0.06">S</text>
<text transform="translate(73.40,440.25) rotate(-90) translate(11.89,0) scale(1.022,1)" font-size="20.15" fill="#ea0a0a" stroke="#ea0a0a" stroke-width="0.06">-</text>
<text transform="translate(73.40,440.25) rotate(-90) translate(18.83,0) scale(0.962,1)" font-size="20.15" fill="#ea0a0a" stroke="#ea0a0a" stroke-width="0.06">V</text>
<text transform="translate(73.40,440.25) rotate(-90) translate(31.95,0) scale(0.955,1)" font-size="20.15" fill="#ea0a0a" stroke="#ea0a0a" stroke-width="0.06">A</text>
<text transform="translate(73.40,440.25) rotate(-90) translate(45.42,0) scale(0.822,1)" font-size="20.15" fill="#ea0a0a" stroke="#ea0a0a" stroke-width="0.06">E</text>
<text transform="translate(472.40,440.20) rotate(-90) translate(-55.90,0) scale(0.932,1)" font-size="20.15" fill="#16b8ca" stroke="#16b8ca" stroke-width="0.06">U</text>
<text transform="translate(472.40,440.20) rotate(-90) translate(-42.66,0) scale(1.034,1)" font-size="20.15" fill="#16b8ca" stroke="#16b8ca" stroke-width="0.06">T</text>
<text transform="translate(472.40,440.20) rotate(-90) translate(-30.16,0) scale(0.945,1)" font-size="20.15" fill="#16b8ca" stroke="#16b8ca" stroke-width="0.06">M</text>
<text transform="translate(472.40,440.20) rotate(-90) translate(-13.81,0) scale(0.937,1)" font-size="20.15" fill="#16b8ca" stroke="#16b8ca" stroke-width="0.06">O</text>
<text transform="translate(472.40,440.20) rotate(-90) translate(1.53,0) scale(0.845,1)" font-size="20.15" fill="#16b8ca" stroke="#16b8ca" stroke-width="0.06">S</text>
<text transform="translate(472.40,440.20) rotate(-90) translate(13.19,0) scale(1.022,1)" font-size="20.15" fill="#16b8ca" stroke="#16b8ca" stroke-width="0.06">-</text>
<text transform="translate(472.40,440.20) rotate(-90) translate(19.54,0) scale(1.034,1)" font-size="20.15" fill="#16b8ca" stroke="#16b8ca" stroke-width="0.06">T</text>
<text transform="translate(472.40,440.20) rotate(-90) translate(31.20,0) scale(1.034,1)" font-size="20.15" fill="#16b8ca" stroke="#16b8ca" stroke-width="0.06">T</text>
<text transform="translate(472.40,440.20) rotate(-90) translate(43.88,0) scale(0.845,1)" font-size="20.15" fill="#16b8ca" stroke="#16b8ca" stroke-width="0.06">S</text>
<clipPath id="cBR"><rect x="567.5" y="333.5" width="313.5" height="214.0"/></clipPath>
<g clip-path="url(#cBR)">
<polyline points="573.5,529.65 674.05,426.2 875.2,336.3" fill="none" stroke="#8c60b6" stroke-width="1.9" stroke-linejoin="round"/>
<circle cx="573.5" cy="529.65" r="3.3" fill="#9467BD"/>
<circle cx="674.05" cy="426.2" r="3.3" fill="#9467BD"/>
<circle cx="875.2" cy="336.3" r="3.3" fill="#9467BD"/>
<polyline points="573.6,347.35 674.4,376.4 874.8,533.5" fill="none" stroke="#a81e22" stroke-width="1.9" stroke-dasharray="7.1 3.2" stroke-linejoin="round"/>
<rect x="570.25" y="344.00" width="6.7" height="6.7" fill="#B22222"/>
<rect x="671.05" y="373.05" width="6.7" height="6.7" fill="#B22222"/>
<rect x="871.45" y="530.15" width="6.7" height="6.7" fill="#B22222"/>
</g>
<rect x="567" y="332.90" width="315" height="1" fill="#000"/>
<rect x="567" y="547.38" width="315" height="1.24" fill="#000"/>
<rect x="567" y="332.90" width="1" height="215.60" fill="#000000"/>
<rect x="880" y="332.90" width="1" height="215.60" fill="#d8a4a6"/>
<rect x="881" y="332.90" width="1" height="215.60" fill="#784448"/>
<rect x="573.25" y="548.50" width="1" height="3.5" fill="#333"/>
<rect x="673.80" y="548.50" width="1" height="3.5" fill="#333"/>
<rect x="874.50" y="548.50" width="1" height="3.5" fill="#333"/>
<rect x="563.50" y="536.90" width="3.5" height="1" fill="#9467BD"/>
<rect x="563.50" y="494.85" width="3.5" height="1" fill="#9467BD"/>
<rect x="563.50" y="452.80" width="3.5" height="1" fill="#9467BD"/>
<rect x="563.50" y="410.75" width="3.5" height="1" fill="#9467BD"/>
<rect x="563.50" y="368.70" width="3.5" height="1" fill="#9467BD"/>
<rect x="881.5" y="547.50" width="3.5" height="1" fill="#B22222"/>
<rect x="881.5" y="518.89" width="3.5" height="1" fill="#B22222"/>
<rect x="881.5" y="490.28" width="3.5" height="1" fill="#B22222"/>
<rect x="881.5" y="461.67" width="3.5" height="1" fill="#B22222"/>
<rect x="881.5" y="433.06" width="3.5" height="1" fill="#B22222"/>
<rect x="881.5" y="404.45" width="3.5" height="1" fill="#B22222"/>
<rect x="881.5" y="375.84" width="3.5" height="1" fill="#B22222"/>
<rect x="881.5" y="347.23" width="3.5" height="1" fill="#B22222"/>
<text transform="translate(566.46,563.90) scale(1.046,1)" font-size="12.1" fill="#000" stroke="#000" stroke-width="0.1">6</text>
<text transform="translate(573.96,563.90) scale(1.011,1)" font-size="12.1" fill="#000" stroke="#000" stroke-width="0.1">4</text>
<text transform="translate(663.37,563.90) scale(0.965,1)" font-size="12.1" fill="#000" stroke="#000" stroke-width="0.1">1</text>
<text transform="translate(670.63,563.90) scale(0.974,1)" font-size="12.1" fill="#000" stroke="#000" stroke-width="0.1">2</text>
<text transform="translate(678.00,563.90) scale(1.022,1)" font-size="12.1" fill="#000" stroke="#000" stroke-width="0.1">8</text>
<text transform="translate(864.13,563.90) scale(0.974,1)" font-size="12.1" fill="#000" stroke="#000" stroke-width="0.1">2</text>
<text transform="translate(871.68,563.90) scale(0.954,1)" font-size="12.1" fill="#000" stroke="#000" stroke-width="0.1">5</text>
<text transform="translate(878.80,563.90) scale(1.046,1)" font-size="12.1" fill="#000" stroke="#000" stroke-width="0.1">6</text>
<text transform="translate(542.85,542.40) scale(0.971,1)" font-size="12.1" fill="#8a5eb4" stroke="#8a5eb4" stroke-width="0.1">3</text>
<text transform="translate(549.89,542.40) scale(1.037,1)" font-size="12.1" fill="#8a5eb4" stroke="#8a5eb4" stroke-width="0.1">.</text>
<text transform="translate(553.74,542.40) scale(0.974,1)" font-size="12.1" fill="#8a5eb4" stroke="#8a5eb4" stroke-width="0.1">2</text>
<text transform="translate(542.34,500.35) scale(0.971,1)" font-size="12.1" fill="#8a5eb4" stroke="#8a5eb4" stroke-width="0.1">3</text>
<text transform="translate(549.38,500.35) scale(1.037,1)" font-size="12.1" fill="#8a5eb4" stroke="#8a5eb4" stroke-width="0.1">.</text>
<text transform="translate(553.26,500.35) scale(1.011,1)" font-size="12.1" fill="#8a5eb4" stroke="#8a5eb4" stroke-width="0.1">4</text>
<text transform="translate(542.42,458.30) scale(0.971,1)" font-size="12.1" fill="#8a5eb4" stroke="#8a5eb4" stroke-width="0.1">3</text>
<text transform="translate(549.46,458.30) scale(1.037,1)" font-size="12.1" fill="#8a5eb4" stroke="#8a5eb4" stroke-width="0.1">.</text>
<text transform="translate(553.22,458.30) scale(1.046,1)" font-size="12.1" fill="#8a5eb4" stroke="#8a5eb4" stroke-width="0.1">6</text>
<text transform="translate(542.48,416.25) scale(0.971,1)" font-size="12.1" fill="#8a5eb4" stroke="#8a5eb4" stroke-width="0.1">3</text>
<text transform="translate(549.52,416.25) scale(1.037,1)" font-size="12.1" fill="#8a5eb4" stroke="#8a5eb4" stroke-width="0.1">.</text>
<text transform="translate(553.36,416.25) scale(1.022,1)" font-size="12.1" fill="#8a5eb4" stroke="#8a5eb4" stroke-width="0.1">8</text>
<text transform="translate(542.31,374.20) scale(1.011,1)" font-size="12.1" fill="#8a5eb4" stroke="#8a5eb4" stroke-width="0.1">4</text>
<text transform="translate(549.50,374.20) scale(1.037,1)" font-size="12.1" fill="#8a5eb4" stroke="#8a5eb4" stroke-width="0.1">.</text>
<text transform="translate(553.38,374.20) scale(1.011,1)" font-size="12.1" fill="#8a5eb4" stroke="#8a5eb4" stroke-width="0.1">0</text>
<text transform="translate(888.15,553.00) scale(0.971,1)" font-size="12.1" fill="#a41e26" stroke="#a41e26" stroke-width="0.1">3</text>
<text transform="translate(895.19,553.00) scale(1.037,1)" font-size="12.1" fill="#a41e26" stroke="#a41e26" stroke-width="0.1">.</text>
<text transform="translate(899.04,553.00) scale(0.974,1)" font-size="12.1" fill="#a41e26" stroke="#a41e26" stroke-width="0.1">2</text>
<text transform="translate(906.33,553.00) scale(1.046,1)" font-size="12.1" fill="#a41e26" stroke="#a41e26" stroke-width="0.1">6</text>
<text transform="translate(888.15,524.39) scale(0.971,1)" font-size="12.1" fill="#a41e26" stroke="#a41e26" stroke-width="0.1">3</text>
<text transform="translate(895.19,524.39) scale(1.037,1)" font-size="12.1" fill="#a41e26" stroke="#a41e26" stroke-width="0.1">.</text>
<text transform="translate(899.04,524.39) scale(0.974,1)" font-size="12.1" fill="#a41e26" stroke="#a41e26" stroke-width="0.1">2</text>
<text transform="translate(906.41,524.39) scale(1.022,1)" font-size="12.1" fill="#a41e26" stroke="#a41e26" stroke-width="0.1">8</text>
<text transform="translate(888.15,495.78) scale(0.971,1)" font-size="12.1" fill="#a41e26" stroke="#a41e26" stroke-width="0.1">3</text>
<text transform="translate(895.19,495.78) scale(1.037,1)" font-size="12.1" fill="#a41e26" stroke="#a41e26" stroke-width="0.1">.</text>
<text transform="translate(899.22,495.78) scale(0.971,1)" font-size="12.1" fill="#a41e26" stroke="#a41e26" stroke-width="0.1">3</text>
<text transform="translate(906.45,495.78) scale(1.011,1)" font-size="12.1" fill="#a41e26" stroke="#a41e26" stroke-width="0.1">0</text>
<text transform="translate(888.15,467.17) scale(0.971,1)" font-size="12.1" fill="#a41e26" stroke="#a41e26" stroke-width="0.1">3</text>
<text transform="translate(895.19,467.17) scale(1.037,1)" font-size="12.1" fill="#a41e26" stroke="#a41e26" stroke-width="0.1">.</text>
<text transform="translate(899.22,467.17) scale(0.971,1)" font-size="12.1" fill="#a41e26" stroke="#a41e26" stroke-width="0.1">3</text>
<text transform="translate(906.42,467.17) scale(0.974,1)" font-size="12.1" fill="#a41e26" stroke="#a41e26" stroke-width="0.1">2</text>
<text transform="translate(888.15,438.56) scale(0.971,1)" font-size="12.1" fill="#a41e26" stroke="#a41e26" stroke-width="0.1">3</text>
<text transform="translate(895.19,438.56) scale(1.037,1)" font-size="12.1" fill="#a41e26" stroke="#a41e26" stroke-width="0.1">.</text>
<text transform="translate(899.22,438.56) scale(0.971,1)" font-size="12.1" fill="#a41e26" stroke="#a41e26" stroke-width="0.1">3</text>
<text transform="translate(906.45,438.56) scale(1.011,1)" font-size="12.1" fill="#a41e26" stroke="#a41e26" stroke-width="0.1">4</text>
<text transform="translate(888.15,409.95) scale(0.971,1)" font-size="12.1" fill="#a41e26" stroke="#a41e26" stroke-width="0.1">3</text>
<text transform="translate(895.19,409.95) scale(1.037,1)" font-size="12.1" fill="#a41e26" stroke="#a41e26" stroke-width="0.1">.</text>
<text transform="translate(899.22,409.95) scale(0.971,1)" font-size="12.1" fill="#a41e26" stroke="#a41e26" stroke-width="0.1">3</text>
<text transform="translate(906.33,409.95) scale(1.046,1)" font-size="12.1" fill="#a41e26" stroke="#a41e26" stroke-width="0.1">6</text>
<text transform="translate(888.15,381.34) scale(0.971,1)" font-size="12.1" fill="#a41e26" stroke="#a41e26" stroke-width="0.1">3</text>
<text transform="translate(895.19,381.34) scale(1.037,1)" font-size="12.1" fill="#a41e26" stroke="#a41e26" stroke-width="0.1">.</text>
<text transform="translate(899.22,381.34) scale(0.971,1)" font-size="12.1" fill="#a41e26" stroke="#a41e26" stroke-width="0.1">3</text>
<text transform="translate(906.41,381.34) scale(1.022,1)" font-size="12.1" fill="#a41e26" stroke="#a41e26" stroke-width="0.1">8</text>
<text transform="translate(888.15,352.73) scale(0.971,1)" font-size="12.1" fill="#a41e26" stroke="#a41e26" stroke-width="0.1">3</text>
<text transform="translate(895.19,352.73) scale(1.037,1)" font-size="12.1" fill="#a41e26" stroke="#a41e26" stroke-width="0.1">.</text>
<text transform="translate(899.07,352.73) scale(1.011,1)" font-size="12.1" fill="#a41e26" stroke="#a41e26" stroke-width="0.1">4</text>
<text transform="translate(906.45,352.73) scale(1.011,1)" font-size="12.1" fill="#a41e26" stroke="#a41e26" stroke-width="0.1">0</text>
<text transform="translate(689.39,327.00) scale(0.937,1)" font-size="20.51" fill="#000" stroke="#000" stroke-width="0.06">Q</text>
<text transform="translate(704.80,327.00) scale(1.022,1)" font-size="20.51" fill="#000" stroke="#000" stroke-width="0.06">u</text>
<text transform="translate(717.26,327.00) scale(0.852,1)" font-size="20.51" fill="#000" stroke="#000" stroke-width="0.06">a</text>
<text transform="translate(729.24,327.00) scale(0.969,1)" font-size="20.51" fill="#000" stroke="#000" stroke-width="0.06">l</text>
<text transform="translate(734.65,327.00) scale(0.969,1)" font-size="20.51" fill="#000" stroke="#000" stroke-width="0.06">i</text>
<text transform="translate(739.68,327.00) scale(1.267,1)" font-size="20.51" fill="#000" stroke="#000" stroke-width="0.06">t</text>
<text transform="translate(747.70,327.00) scale(1.018,1)" font-size="20.51" fill="#000" stroke="#000" stroke-width="0.06">y</text>
<text transform="translate(671.63,584.60) scale(0.975,1)" font-size="20.51" fill="#000" stroke="#000" stroke-width="0.06">L</text>
<text transform="translate(682.61,584.60) scale(0.852,1)" font-size="20.51" fill="#000" stroke="#000" stroke-width="0.06">a</text>
<text transform="translate(694.23,584.60) scale(1.267,1)" font-size="20.51" fill="#000" stroke="#000" stroke-width="0.06">t</text>
<text transform="translate(701.91,584.60) scale(1.024,1)" font-size="20.51" fill="#000" stroke="#000" stroke-width="0.06">e</text>
<text transform="translate(714.06,584.60) scale(1.022,1)" font-size="20.51" fill="#000" stroke="#000" stroke-width="0.06">n</text>
<text transform="translate(726.13,584.60) scale(1.267,1)" font-size="20.51" fill="#000" stroke="#000" stroke-width="0.06">t</text>
<text transform="translate(739.99,584.60) scale(1.030,1)" font-size="20.51" fill="#000" stroke="#000" stroke-width="0.06">d</text>
<text transform="translate(752.65,584.60) scale(0.969,1)" font-size="20.51" fill="#000" stroke="#000" stroke-width="0.06">i</text>
<text transform="translate(757.84,584.60) scale(1.080,1)" font-size="20.51" fill="#000" stroke="#000" stroke-width="0.06">m</text>
<text transform="translate(534.40,440.35) rotate(-90) translate(-47.76,0) scale(0.838,1)" font-size="20.15" fill="#9064ba" stroke="#9064ba" stroke-width="0.06">P</text>
<text transform="translate(534.40,440.35) rotate(-90) translate(-36.21,0) scale(0.822,1)" font-size="20.15" fill="#9064ba" stroke="#9064ba" stroke-width="0.06">E</text>
<text transform="translate(534.40,440.35) rotate(-90) translate(-24.17,0) scale(0.845,1)" font-size="20.15" fill="#9064ba" stroke="#9064ba" stroke-width="0.06">S</text>
<text transform="translate(534.40,440.35) rotate(-90) translate(-12.36,0) scale(0.937,1)" font-size="20.15" fill="#9064ba" stroke="#9064ba" stroke-width="0.06">Q</text>
<text transform="translate(534.40,440.35) rotate(-90) translate(2.52,0) scale(1.022,1)" font-size="20.15" fill="#9064ba" stroke="#9064ba" stroke-width="0.06">-</text>
<text transform="translate(534.40,440.35) rotate(-90) translate(9.46,0) scale(0.962,1)" font-size="20.15" fill="#9064ba" stroke="#9064ba" stroke-width="0.06">V</text>
<text transform="translate(534.40,440.35) rotate(-90) translate(22.57,0) scale(0.955,1)" font-size="20.15" fill="#9064ba" stroke="#9064ba" stroke-width="0.06">A</text>
<text transform="translate(534.40,440.35) rotate(-90) translate(36.04,0) scale(0.822,1)" font-size="20.15" fill="#9064ba" stroke="#9064ba" stroke-width="0.06">E</text>
<text transform="translate(932.80,440.10) rotate(-90) translate(-63.71,0) scale(0.981,1)" font-size="20.15" fill="#aa2024" stroke="#aa2024" stroke-width="0.06">D</text>
<text transform="translate(932.80,440.10) rotate(-90) translate(-48.92,0) scale(0.936,1)" font-size="20.15" fill="#aa2024" stroke="#aa2024" stroke-width="0.06">N</text>
<text transform="translate(932.80,440.10) rotate(-90) translate(-34.48,0) scale(0.845,1)" font-size="20.15" fill="#aa2024" stroke="#aa2024" stroke-width="0.06">S</text>
<text transform="translate(932.80,440.10) rotate(-90) translate(-22.53,0) scale(0.945,1)" font-size="20.15" fill="#aa2024" stroke="#aa2024" stroke-width="0.06">M</text>
<text transform="translate(932.80,440.10) rotate(-90) translate(-6.18,0) scale(0.937,1)" font-size="20.15" fill="#aa2024" stroke="#aa2024" stroke-width="0.06">O</text>
<text transform="translate(932.80,440.10) rotate(-90) translate(9.16,0) scale(0.845,1)" font-size="20.15" fill="#aa2024" stroke="#aa2024" stroke-width="0.06">S</text>
<text transform="translate(932.80,440.10) rotate(-90) translate(20.82,0) scale(1.022,1)" font-size="20.15" fill="#aa2024" stroke="#aa2024" stroke-width="0.06">-</text>
<text transform="translate(932.80,440.10) rotate(-90) translate(27.17,0) scale(1.034,1)" font-size="20.15" fill="#aa2024" stroke="#aa2024" stroke-width="0.06">T</text>
<text transform="translate(932.80,440.10) rotate(-90) translate(38.83,0) scale(1.034,1)" font-size="20.15" fill="#aa2024" stroke="#aa2024" stroke-width="0.06">T</text>
<text transform="translate(932.80,440.10) rotate(-90) translate(51.51,0) scale(0.845,1)" font-size="20.15" fill="#aa2024" stroke="#aa2024" stroke-width="0.06">S</text>
</svg>
</body></html>
